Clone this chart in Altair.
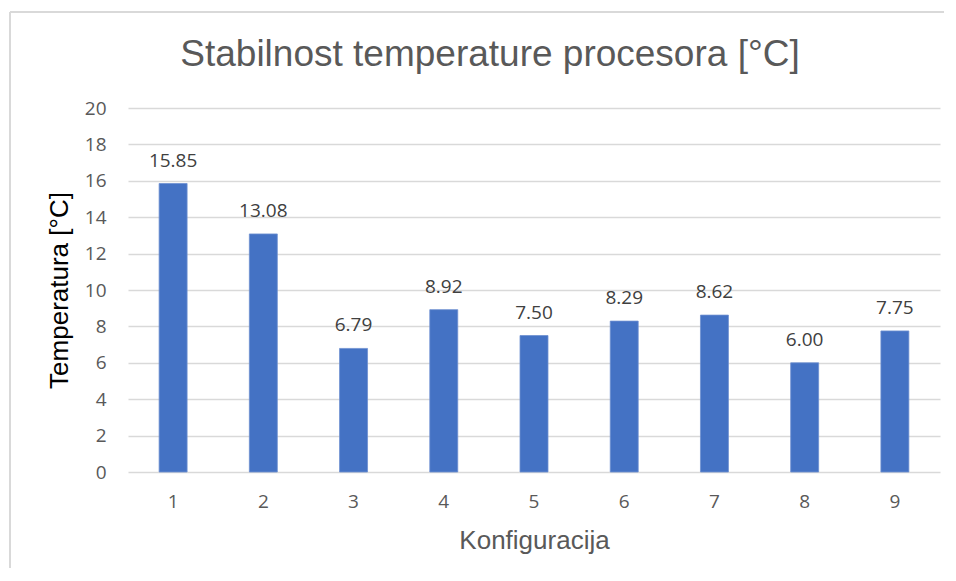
import altair as alt
import pandas as pd

categories = ["1", "2", "3", "4", "5", "6", "7", "8", "9"]
values = [15.85, 13.08, 6.79, 8.92, 7.50, 8.29, 8.62, 6.00, 7.75]
labels = ["15.85", "13.08", "6.79", "8.92", "7.50", "8.29", "8.62", "6.00", "7.75"]
y_ticks = [0, 2, 4, 6, 8, 10, 12, 14, 16, 18, 20]
title_text = "Stabilnost temperature procesora [°C]"

df = pd.DataFrame({"k": categories, "v": values, "lab": labels})

x = alt.X("k:N", sort=categories,
          scale=alt.Scale(paddingInner=0.69, paddingOuter=0.345),
          axis=alt.Axis(title="Konfiguracija", labelAngle=0, ticks=False, domain=False,
                        labelFont="Open Sans", labelFontSize=19, labelColor="#595959",
                        labelPadding=20, titleFont="Liberation Sans", titleFontSize=26,
                        titleFontWeight="normal", titleColor="#595959", titlePadding=16))
y = alt.Y("v:Q", scale=alt.Scale(domain=[0, 20], nice=False),
          axis=alt.Axis(title="Temperatura [°C]", values=y_ticks, ticks=False, domain=False,
                        labelOverlap=False,
                        grid=True, gridColor="#D9D9D9", gridWidth=1.5,
                        labelFont="Open Sans", labelFontSize=19, labelColor="#595959",
                        labelPadding=22, titleFont="Liberation Sans", titleFontSize=26,
                        titleFontWeight="normal", titleColor="#000000", titlePadding=12))

base = alt.Chart(df)
bars = base.mark_bar(color="#4472C4", stroke="#6d8fd0", strokeWidth=0.8).encode(x=x, y=y)
text = base.mark_text(font="Open Sans", fontSize=19, color="#404040",
                      baseline="alphabetic", dy=-17).encode(x=x, y=y, text="lab:N")

one = pd.DataFrame({"t": [title_text]})
title = alt.Chart(one).mark_text(font="Liberation Sans", fontSize=37, color="#595959",
                                 baseline="alphabetic", align="center").encode(
    x=alt.value(362), y=alt.value(-42), text="t:N")
border_top = alt.Chart(one).mark_rule(color="#D9D9D9", strokeWidth=2).encode(
    x=alt.value(-118), x2=alt.value(840), y=alt.value(-96))
border_left = alt.Chart(one).mark_rule(color="#D9D9D9", strokeWidth=2).encode(
    x=alt.value(-118), y=alt.value(-96), y2=alt.value(470))

chart = alt.layer(bars, text, title, border_top, border_left).properties(
    width=812, height=364,
    autosize=alt.AutoSizeParams(type="none"),
    padding={"left": 120, "top": 100, "right": 4, "bottom": 96},
).configure_view(stroke=None, strokeWidth=0)

chart.save("out.html", embed_options={"renderer": "svg", "actions": False})
